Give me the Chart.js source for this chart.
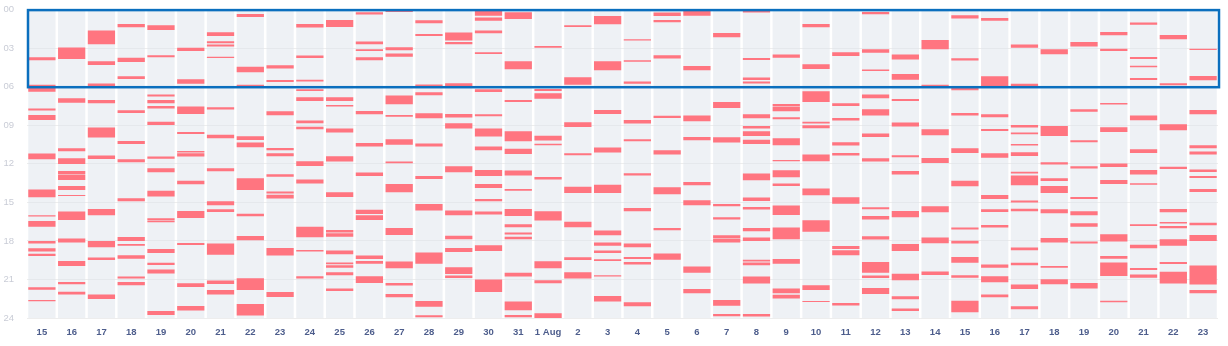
<!DOCTYPE html>
<html>
<head>
<meta charset="utf-8">
<script src="https://cdn.jsdelivr.net/npm/chart.js@4.4.1/dist/chart.umd.min.js"></script>
<style>
  html, body { margin: 0; padding: 0; background: #ffffff; }
  #wrap { position: relative; width: 1228px; height: 346px; }
</style>
</head>
<body>
<div id="wrap"><canvas id="c" width="1228" height="346"></canvas></div>
<script>
// ---- Data: categories (days) ----
const dayLabels = ['15','16','17','18','19','20','21','22','23','24','25','26','27','28','29','30','31',
  '1 Aug','2','3','4','5','6','7','8','9','10','11','12','13','14','15','16','17','18','19','20','21','22','23'];

// ---- Hour ticks ----
const hourTicks = [0, 3, 6, 9, 12, 15, 18, 21, 24];

// ---- Highlighted window (hours) ----
const highlightHours = [0, 6];

// ---- Busy segments per day, [startHour, endHour] ----
const jul15 = [[3.7,3.95],[5.85,6.4],[7.7,7.85],[8.2,8.6],[11.2,11.65],[14.0,14.6],[16.0,16.1],[16.45,16.9],[18.0,18.2],[18.57,18.83],[19.0,19.17],[21.6,21.8],[22.6,22.7]];
const jul16 = [[2.95,3.85],[6.9,7.25],[10.79,11.02],[11.57,12.01],[12.56,12.79],[12.84,13.26],[13.72,14.03],[14.42,14.5],[15.72,16.37],[17.82,18.13],[19.56,19.95],[21.19,21.37],[21.95,22.18]];
const jul17 = [[1.63,2.7],[4.02,4.31],[5.76,6.04],[7.03,7.29],[9.18,9.96],[11.36,11.62],[15.51,16.0],[18.0,18.5],[19.3,19.48],[22.18,22.52]];
const jul18 = [[1.12,1.37],[3.74,4.07],[5.19,5.4],[7.83,8.04],[10.22,10.45],[11.65,11.88],[14.68,14.92],[17.69,18.0],[18.24,18.37],[19.12,19.38],[20.78,20.93],[21.19,21.45]];
const jul19 = [[1.22,1.58],[3.55,3.71],[6.61,6.77],[7.03,7.29],[7.5,7.7],[8.72,8.98],[11.44,11.6],[12.35,12.66],[14.09,14.55],[16.24,16.37],[16.42,16.55],[18.63,18.94],[19.71,19.87],[20.23,20.54],[23.45,23.76]];
const jul20 = [[2.96,3.22],[5.42,5.78],[7.55,8.12],[9.52,9.68],[11.0,11.13],[11.18,11.44],[13.31,13.59],[15.67,16.21],[18.16,18.31],[21.29,21.58],[23.06,23.42]];
const jul21 = [[1.76,2.05],[2.46,2.62],[2.72,2.88],[3.66,3.76],[7.6,7.78],[9.73,10.01],[12.35,12.58],[14.92,15.23],[15.54,15.75],[18.21,19.07],[21.09,21.35],[21.82,22.18]];
const jul22 = [[0.34,0.57],[4.44,4.88],[5.84,6.04],[9.86,10.14],[10.35,10.71],[13.13,14.03],[15.88,16.08],[17.61,17.95],[20.91,21.82],[22.91,23.81]];
const jul23 = [[4.33,4.59],[5.47,5.63],[7.91,8.22],[10.77,10.95],[11.18,11.41],[12.81,13.0],[14.16,14.32],[14.4,14.71],[18.55,19.14],[21.97,22.36]];
const jul24 = [[1.12,1.4],[3.58,3.76],[5.45,5.6],[6.2,6.33],[6.82,7.11],[8.64,8.85],[9.11,9.31],[11.8,12.17],[13.23,13.54],[16.89,17.72],[18.7,18.83],[20.75,20.93]];
const jul25 = [[0.8,1.35],[6.82,7.11],[7.42,7.55],[9.26,9.57],[11.41,11.83],[14.22,14.58],[17.15,17.35],[17.4,17.67],[18.75,19.04],[19.69,19.82],[19.9,20.08],[20.44,20.67],[21.71,21.89]];
const jul26 = [[0.21,0.39],[2.49,2.7],[3.09,3.22],[3.71,3.94],[7.89,8.15],[10.38,10.66],[12.68,12.94],[15.57,15.9],[16.0,16.37],[19.14,19.4],[19.56,19.77],[20.75,21.27]];
const jul27 = [[0.03,0.18],[2.93,3.16],[3.42,3.66],[6.69,7.37],[8.2,8.33],[10.09,10.51],[11.83,11.96],[13.57,14.22],[16.99,17.54],[19.61,20.13],[21.27,21.48],[22.13,22.39]];
const jul28 = [[0.83,1.06],[1.89,2.05],[5.82,5.97],[6.43,6.67],[8.07,8.46],[10.42,10.66],[12.95,13.18],[15.12,15.64],[18.91,19.77],[22.68,23.12],[23.79,23.94]];
const jul29 = [[1.79,2.41],[2.52,2.7],[5.73,6.04],[8.12,8.4],[8.85,9.26],[12.19,12.66],[15.64,16.0],[17.59,17.87],[18.55,18.86],[20.05,20.57],[20.7,20.88]];
const jul30 = [[0.0,0.47],[0.62,0.86],[1.63,1.84],[3.32,3.45],[6.2,6.41],[8.15,8.3],[9.26,9.88],[10.66,10.95],[12.48,12.94],[13.57,13.88],[14.73,14.92],[15.72,15.95],[18.34,18.78],[21.01,21.97]];
const jul31 = [[0.21,0.73],[4.02,4.64],[7.03,7.19],[9.47,10.25],[10.82,11.23],[12.53,12.92],[13.96,14.09],[15.51,16.06],[16.71,16.94],[17.35,17.51],[17.67,17.87],[20.47,20.78],[22.72,23.4],[23.76,23.94]];
const aug01 = [[2.83,2.96],[6.17,6.33],[6.51,6.93],[9.81,10.19],[10.43,10.56],[13.02,13.23],[15.69,16.42],[19.58,20.13],[21.06,21.3],[23.63,24.0]];
const aug02 = [[1.22,1.35],[5.27,5.84],[8.77,9.13],[11.18,11.34],[13.78,14.27],[16.5,16.94],[19.27,19.48],[20.44,20.93]];
const aug03 = [[0.49,1.14],[4.02,4.72],[7.81,8.12],[10.74,11.13],[13.64,14.27],[17.2,17.56],[18.13,18.37],[18.75,18.94],[19.43,19.56],[20.67,20.78],[22.28,22.72]];
const aug04 = [[2.31,2.41],[3.94,4.05],[5.6,5.78],[8.59,8.87],[10.09,10.25],[12.74,12.92],[15.43,15.69],[18.21,18.5],[19.25,19.4],[19.64,19.84],[22.78,23.09]];
const aug05 = [[0.23,0.49],[0.8,0.99],[3.55,3.81],[8.27,8.43],[10.95,11.28],[13.83,14.37],[16.99,17.17],[18.99,19.46]];
const aug06 = [[0.0,0.47],[4.38,4.72],[8.25,8.69],[9.91,10.17],[13.41,13.67],[14.84,15.23],[20.0,20.47],[21.74,22.08]];
const aug07 = [[1.82,2.15],[7.19,7.65],[9.94,10.35],[15.12,15.3],[16.16,16.34],[17.56,17.82],[17.85,18.13],[22.59,23.04],[23.68,23.87]];
const aug08 = [[0.0,0.23],[3.76,3.92],[5.29,5.47],[5.6,5.76],[8.15,8.46],[9.05,9.26],[9.47,9.83],[10.12,10.45],[12.76,13.28],[14.63,14.89],[15.36,15.56],[16.99,17.25],[17.74,18.0],[19.46,19.61],[19.69,19.9],[20.78,21.32],[23.68,23.89]];
const aug09 = [[3.5,3.74],[7.34,7.55],[7.58,7.91],[8.38,8.53],[10.01,10.56],[11.7,11.8],[12.5,13.05],[13.54,13.72],[15.25,15.98],[16.96,17.87],[19.4,19.77],[21.71,22.08],[22.2,22.49]];
const aug10 = [[1.12,1.37],[4.25,4.62],[6.36,7.19],[8.72,8.87],[9.0,9.23],[11.28,11.8],[13.93,14.45],[16.39,17.28],[21.45,21.82],[22.67,22.75]];
const aug11 = [[3.32,3.61],[7.29,7.5],[8.43,8.64],[10.32,10.58],[11.15,11.36],[14.6,15.1],[18.39,18.63],[18.73,19.12],[22.83,23.03]];
const aug12 = [[0.18,0.36],[3.09,3.35],[4.67,4.77],[6.61,6.9],[7.76,8.25],[9.65,9.91],[11.57,11.83],[15.38,15.54],[16.06,16.34],[17.64,17.9],[19.64,20.47],[20.7,20.88],[21.66,22.13]];
const aug13 = [[3.5,3.89],[5.01,5.45],[6.95,7.11],[8.79,9.1],[11.34,11.49],[12.56,12.84],[15.67,16.16],[18.24,18.78],[20.55,21.06],[22.31,22.54],[23.27,23.45]];
const aug14 = [[2.36,3.09],[5.84,6.04],[9.31,9.78],[11.54,11.93],[15.3,15.77],[17.74,18.18],[20.39,20.65]];
const aug15 = [[0.44,0.7],[3.79,3.97],[6.04,6.28],[8.04,8.25],[10.79,11.15],[13.31,13.75],[16.96,17.12],[17.98,18.21],[19.25,19.71],[20.67,20.86],[22.65,23.55]];
const aug16 = [[0.65,0.86],[5.19,5.97],[8.15,8.38],[9.29,9.44],[11.18,11.52],[14.42,14.73],[15.54,15.75],[16.76,16.96],[19.84,20.08],[20.75,21.22],[22.18,22.39]];
const aug17 = [[2.72,2.96],[5.78,6.04],[8.98,9.18],[9.57,9.7],[10.45,10.58],[11.1,11.39],[12.61,12.76],[12.92,13.67],[14.86,15.02],[15.49,15.69],[18.52,18.73],[19.71,19.9],[21.4,21.74],[23.09,23.32]];
const aug18 = [[3.09,3.48],[9.05,9.83],[11.88,12.06],[13.13,13.33],[13.72,14.27],[15.54,15.85],[17.77,18.13],[19.95,20.08],[20.99,21.37]];
const aug19 = [[2.52,2.88],[7.76,7.94],[10.17,10.32],[12.19,12.37],[14.58,14.73],[15.69,16.0],[16.63,16.89],[18.05,18.21],[21.27,21.71]];
const aug20 = [[1.74,2.0],[3.04,3.22],[7.26,7.39],[9.16,9.52],[11.98,12.24],[13.26,13.57],[17.48,18.05],[19.17,19.38],[19.69,20.73],[22.65,22.78]];
const aug21 = [[1.01,1.17],[3.68,3.84],[4.36,4.49],[5.32,5.47],[8.25,8.61],[10.87,11.15],[12.48,12.84],[13.51,13.64],[16.71,16.84],[18.29,18.57],[20.1,20.26],[20.62,20.86]];
const aug22 = [[1.97,2.31],[5.73,5.89],[8.92,9.39],[12.22,12.4],[15.51,15.77],[16.52,16.65],[16.84,17.02],[17.87,18.37],[19.64,19.79],[20.41,21.32]];
const aug23 = [[3.04,3.14],[5.16,5.5],[7.81,8.15],[10.56,10.79],[11.05,11.28],[12.45,12.63],[12.94,13.1],[13.96,14.19],[16.58,16.78],[17.54,18.0],[19.92,21.4],[21.82,22.08]];

const segmentsByDay = [jul15, jul16, jul17, jul18, jul19, jul20, jul21, jul22, jul23, jul24, jul25, jul26, jul27,
  jul28, jul29, jul30, jul31, aug01, aug02, aug03, aug04, aug05, aug06, aug07, aug08, aug09, aug10, aug11, aug12,
  aug13, aug14, aug15, aug16, aug17, aug18, aug19, aug20, aug21, aug22, aug23];

// ---- Build datasets ----
const maxSegs = Math.max(...segmentsByDay.map(s => s.length));
const datasets = [];
for (let k = 0; k < maxSegs; k++) {
  datasets.push({
    label: 'busy ' + k,
    data: segmentsByDay.map(s => s[k] ? s[k] : null),
    backgroundColor: '#ff7580',
    borderWidth: 0,
    borderSkipped: false,
    grouped: false,
    order: 0,
    barPercentage: 0.915,
    categoryPercentage: 1.0
  });
}
datasets.push({
  label: 'day',
  data: dayLabels.map(() => [hourTicks[0], hourTicks[hourTicks.length - 1]]),
  backgroundColor: 'rgba(222,228,236,0.5)',
  borderWidth: 0,
  borderSkipped: false,
  grouped: false,
  order: 10,
  barPercentage: 0.915,
  categoryPercentage: 1.0
});

const highlightPlugin = {
  id: 'highlight',
  afterDatasetsDraw(chart) {
    const { ctx, chartArea, scales } = chart;
    const y0 = scales.y.getPixelForValue(highlightHours[0]);
    const y1 = scales.y.getPixelForValue(highlightHours[1]);
    ctx.save();
    ctx.strokeStyle = '#0b6fbe';
    ctx.lineWidth = 2.5;
    ctx.strokeRect(chartArea.left + 1, y0 + 0.5, chartArea.right - chartArea.left, y1 - y0);
    ctx.restore();
  }
};

new Chart(document.getElementById('c'), {
  type: 'bar',
  data: { labels: dayLabels, datasets },
  options: {
    responsive: false,
    animation: false,
    events: [],
    layout: { padding: { top: 9.6, right: 10, left: 0, bottom: 0 } },
    plugins: { legend: { display: false }, tooltip: { enabled: false } },
    scales: {
      x: {
        grid: { display: false, drawTicks: false },
        border: { display: false },
        ticks: {
          color: '#4d5d8c',
          font: { family: 'Liberation Sans, Arial, sans-serif', size: 9.5, weight: '600' },
          padding: 9,
          autoSkip: false,
          maxRotation: 0
        },
        afterFit(scale) { scale.height = 28; scale.paddingTop = 0; scale.paddingBottom = 0; }
      },
      y: {
        reverse: true,
        min: hourTicks[0],
        max: hourTicks[hourTicks.length - 1],
        afterBuildTicks(scale) { scale.ticks = hourTicks.map(v => ({ value: v })); },
        grid: { color: 'rgba(0,0,0,0.07)', drawTicks: false },
        border: { display: false },
        ticks: {
          color: '#c9ccd6',
          font: { family: 'Liberation Sans, Arial, sans-serif', size: 9.5 },
          padding: 13,
          callback: v => String(v).padStart(2, '0')
        },
        afterFit(scale) { scale.width = 27; scale.paddingTop = 0; scale.paddingBottom = 0; }
      }
    }
  },
  plugins: [highlightPlugin]
});
</script>
</body>
</html>
